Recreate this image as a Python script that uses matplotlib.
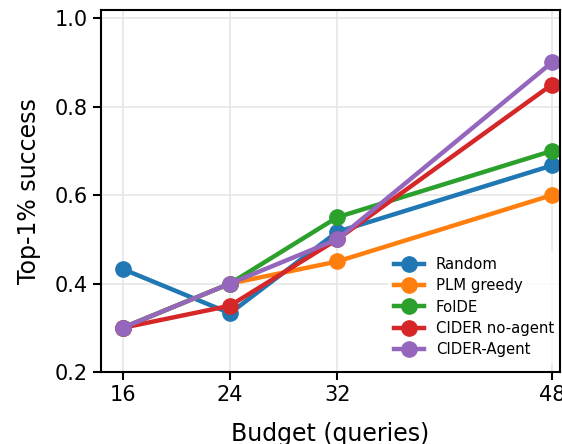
import matplotlib
matplotlib.use("Agg")
import matplotlib.pyplot as plt

## budgets (queries) and top-1% success per method
budgets = [16, 24, 32, 48]
random_ = [0.433, 0.333, 0.517, 0.667]
plm_greedy = [0.30, 0.40, 0.45, 0.60]
folde = [0.30, 0.40, 0.55, 0.70]
cider_noagent = [0.30, 0.35, 0.50, 0.85]
cider_agent = [0.30, 0.40, 0.50, 0.90]

labels = ["Random", "PLM greedy", "FolDE", "CIDER no-agent", "CIDER-Agent"]
series = [random_, plm_greedy, folde, cider_noagent, cider_agent]
colors = ["#1f77b4", "#ff7f0e", "#2ca02c", "#d62728", "#9467bd"]

fig = plt.figure(figsize=(5.62, 4.44), dpi=100)
ax = fig.add_axes([0.18, 0.162, 0.8165, 0.815])

for ys, lab, c in zip(series, labels, colors):
    ax.plot(budgets, ys, "-o", color=c, lw=3.2, ms=11, label=lab)

ax.set_xlim(14.4, 48.6)
ax.set_ylim(0.2, 1.018)
ax.set_xticks(budgets)
ax.set_yticks([0.2, 0.4, 0.6, 0.8, 1.0])
ax.grid(True, color="#e6e6e6", lw=1.2)
ax.set_axisbelow(True)
ax.tick_params(labelsize=15, width=1.5, length=6)
for s in ax.spines.values():
    s.set_linewidth(1.5)

ax.set_xlabel("Budget (queries)", fontsize=17, labelpad=12)
ax.set_ylabel("Top-1% success", fontsize=17, labelpad=10)

leg = ax.legend(loc="lower right", fontsize=10.7, frameon=True, framealpha=0.8,
                edgecolor="none", bbox_to_anchor=(1.0, 0.025), borderaxespad=0.0,
                handlelength=2.0, labelspacing=0.42)
leg.set_zorder(2.4)  ## keep the right spine drawn over the legend box

fig.savefig("out.png", dpi=100)
